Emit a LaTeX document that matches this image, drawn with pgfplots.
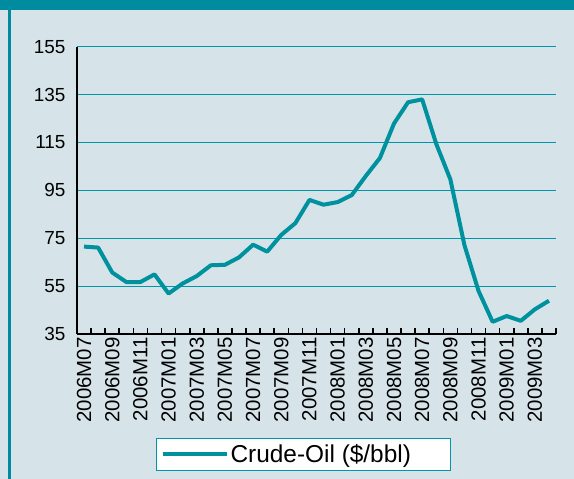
\documentclass[border=0pt]{standalone}
\usepackage{fontspec}
\setmainfont{Liberation Sans}
\usepackage{pgfplots}
\pgfplotsset{compat=1.18}
\definecolor{bg}{RGB}{214,228,234}
\definecolor{band}{RGB}{0,140,158}
\definecolor{oil}{RGB}{0,145,158}
\definecolor{gridc}{RGB}{0,150,170}
\begin{document}
\begin{tikzpicture}[x=1bp,y=1bp]
\path[use as bounding box] (0,0) rectangle (574,479);
\fill[bg] (0,0) rectangle (574,479);
\fill[band] (0,468.5) rectangle (574,479);
\fill[band] (7.5,0) rectangle (11,479);
\begin{axis}[
  at={(77bp,145bp)}, anchor=south west,
  scale only axis, width=479bp, height=287.3bp,
  xmin=-0.5, xmax=33.5, ymin=35, ymax=155,
  axis x line*=bottom, axis y line*=left,
  axis line style={black, line width=1.8bp, -},
  xtick={0,2,...,32},
  xticklabels={2006M07,2006M09,2006M11,2007M01,2007M03,2007M05,2007M07,2007M09,2007M11,2008M01,2008M03,2008M05,2008M07,2008M09,2008M11,2009M01,2009M03},
  minor xtick={-0.5,0.5,...,33.5},
  major tick length=0pt, minor tick length=6bp,
  tick align=inside,
  minor tick style={black, line width=1.6bp},
  ytick={35,55,...,155},
  ymajorgrids, grid style={gridc, line width=1.2bp},
  xticklabel style={rotate=90, anchor=east, font=\fontsize{20.5}{22}\selectfont},
  yticklabel style={font=\fontsize{19}{21}\selectfont, xshift=-8bp},
  /pgf/number format/assume math mode=true,
  legend style={at={(0.473,-0.419)}, anchor=center, draw=gridc, fill=white,
    line width=1.2bp, inner xsep=4bp, inner ysep=4.5bp,
    font=\fontsize{24.5}{27}\selectfont},
  legend image code/.code={\path (0bp,0bp) -- (64bp,0bp); \draw[oil, line width=4bp] (12bp,0bp) -- (64bp,0bp);},
]
\addplot[oil, line width=4bp, line join=round] coordinates {
(0,71.5) (1,71.1) (2,60.7) (3,56.7) (4,56.7) (5,59.9) (6,51.9) (7,56.1)
(8,59.2) (9,63.7) (10,63.9) (11,67.0) (12,72.3) (13,69.4) (14,76.4) (15,81.3)
(16,91.0) (17,89.0) (18,90.1) (19,93.0) (20,101.0) (21,108.5) (22,122.9) (23,131.8)
(24,133.0) (25,114.4) (26,99.6) (27,72.1) (28,53.0) (29,40.1) (30,42.5) (31,40.5)
(32,45.3) (33,48.9)
};
\addlegendentry{\makebox[214bp][l]{Crude-Oil (\$/bbl)}}
\end{axis}
\end{tikzpicture}
\end{document}
